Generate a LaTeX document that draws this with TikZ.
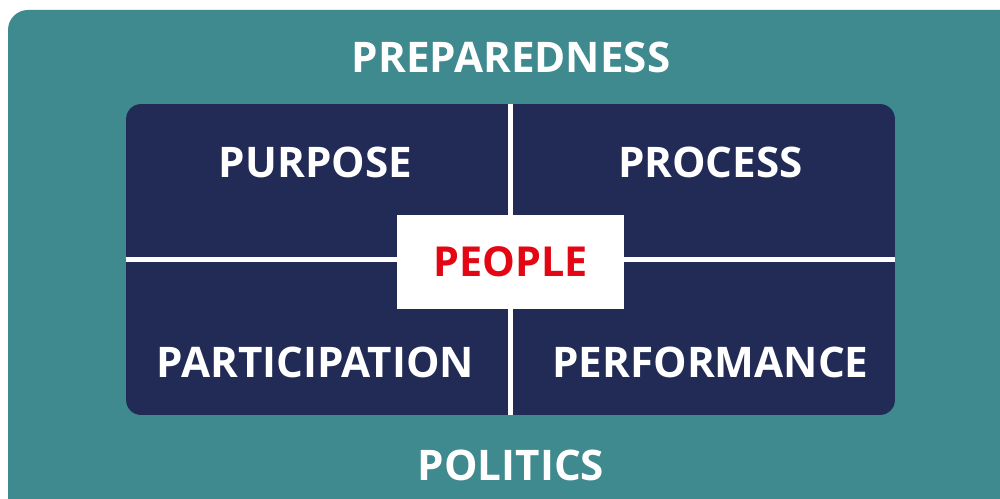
\documentclass[tikz,border=0pt]{standalone}
\usepackage{fontspec}
\setmainfont{Open Sans}
\usepackage{tikz}
\usetikzlibrary{positioning,calc}
\definecolor{tealbg}{HTML}{3E8A8F}
\definecolor{navy}{HTML}{222B55}
\definecolor{alertred}{HTML}{E30613}
\tikzset{
  % Outer frame and inner board
  frame/.style={fill=tealbg,draw=none,rounded corners=0.4cm},
  board/.style={fill=navy,draw=none,rounded corners=0.3cm,
                minimum width=15.38cm,minimum height=6.22cm,inner sep=0pt},
  % Labels
  lbl/.style={text=white,inner sep=0pt,
              font=\fontsize{24}{27}\selectfont\bfseries},
  % Centre box
  hub/.style={fill=white,draw=none,minimum width=4.54cm,minimum height=1.88cm,
              inner sep=0pt,text=alertred,
              font=\fontsize{23.5}{27}\selectfont\bfseries},
  % White dividers
  divider/.style={draw=white,line width=3.4pt}
}
\begin{document}
\begin{tikzpicture}[x=0.02cm,y=-0.02cm]
  \useasboundingbox (0,0) rectangle (1000,499);
  \begin{scope}
    \clip (0,0) rectangle (1000,499);
    \fill[frame] (8,10) rectangle (1030,520);
  \end{scope}

  % Outer labels
  \node[lbl] (prep) at (511,57)  {PREPAREDNESS};
  \node[lbl] (pol)  at (511,465) {POLITICS};

  % Core board with cross
  \node[board] (core) at (510.5,259.5) {};
  \draw[divider] (core.north) -- (core.south);
  \draw[divider] (core.west) -- (core.east);

  % Quadrants
  \node[lbl] (purp) at (315.5,162) {PURPOSE};
  \node[lbl] (proc) at (710.5,162) {PROCESS};
  \node[lbl] (part) at (315.5,362) {PARTICIPATION};
  \node[lbl] (perf) at (710.5,362) {PERFORMANCE};

  % Centre
  \node[hub] (ppl) at (510.5,262) {PEOPLE};
\end{tikzpicture}
\end{document}
